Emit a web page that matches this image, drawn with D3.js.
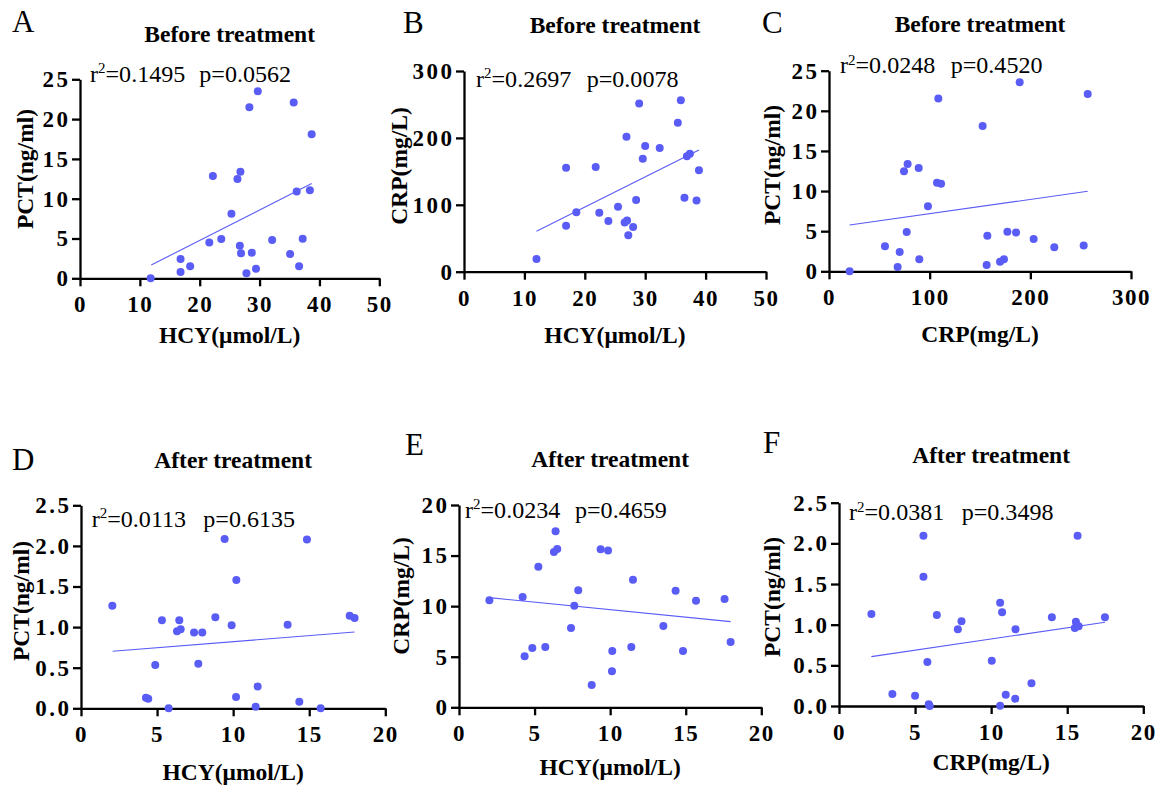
<!DOCTYPE html>
<html>
<head>
<meta charset="utf-8">
<script src="https://cdn.jsdelivr.net/npm/d3@7"></script>
<style>
  html, body { margin: 0; padding: 0; background: #fff; }
  svg { display: block; }
  text { font-family: "Liberation Serif", "Times New Roman", serif; fill: #000; }
</style>
</head>
<body>
<svg id="chart" width="1164" height="788"></svg>
<script>
// ---------- data ----------
// A: HCY (µmol/L) vs PCT (ng/ml), before treatment
const aX = [11.8, 16.8, 16.8, 18.4, 21.6, 22.2, 23.6, 25.3, 26.3, 26.8, 26.7, 26.9, 27.8, 28.3, 28.7, 29.4, 29.7, 32.1, 35.1, 35.7, 36.2, 36.6, 37.2, 38.4, 38.7];
const aY = [0.0, 2.43, 0.8, 1.5, 4.5, 12.86, 4.94, 8.1, 12.46, 13.4, 4.1, 3.14, 0.63, 21.5, 3.22, 1.2, 23.5, 4.8, 3.06, 22.07, 10.9, 1.5, 4.98, 11.06, 18.1];
const aFit = [[11.9, 1.67], [38.7, 11.9]];

// B: HCY (µmol/L) vs CRP (mg/L), before treatment
const bX = [12.0, 16.9, 16.9, 18.6, 21.8, 22.4, 23.9, 25.5, 26.6, 27.0, 26.9, 27.2, 28.0, 28.5, 29.0, 29.6, 30.0, 32.4, 35.4, 35.9, 36.5, 36.9, 37.4, 38.5, 38.9];
const bY = [18.9, 155.5, 68.8, 88.7, 156.5, 88.2, 75.7, 97.2, 73.7, 76.7, 201.8, 54.3, 66.8, 107.1, 251.6, 168.9, 187.8, 184.9, 222.7, 256.1, 110.6, 172.4, 176.4, 106.6, 151.5];
const bFit = [[12.0, 60.3], [38.9, 181.9]];

// C: CRP (mg/L) vs PCT (ng/ml), before treatment
const cX = [20.5, 55.6, 68.2, 70.2, 74.5, 77.2, 78.1, 89.1, 89.7, 98.3, 107.3, 111.3, 108.6, 152.6, 156.6, 157.3, 169.9, 173.8, 177.2, 185.8, 189.4, 203.3, 223.8, 253.0, 257.0];
const cY = [0.0, 3.11, 0.54, 2.41, 12.46, 4.9, 13.37, 12.87, 1.5, 8.1, 11.05, 10.92, 21.55, 18.1, 0.79, 4.44, 1.2, 1.5, 4.94, 4.82, 23.55, 4.03, 2.99, 3.2, 22.09];
const cFit = [[20.5, 5.77], [257.0, 9.97]];

// D: HCY (µmol/L) vs PCT (ng/ml), after treatment
const dX = [2.06, 4.27, 4.42, 4.88, 5.32, 5.76, 6.31, 6.55, 6.46, 7.43, 7.71, 7.97, 8.83, 9.44, 9.90, 10.19, 10.21, 11.48, 11.61, 13.58, 14.35, 14.85, 15.75, 17.66, 17.98];
const dY = [1.264, 0.131, 0.119, 0.534, 1.084, 0.0, 0.948, 0.973, 1.084, 0.932, 0.55, 0.932, 1.12, 2.085, 1.022, 0.14, 1.58, 0.02, 0.27, 1.03, 0.08, 2.08, 0.0, 1.14, 1.112];
const dFit = [[2.08, 0.702], [17.98, 0.94]];

// E: HCY (µmol/L) vs CRP (mg/L), after treatment
const eX = [2.01, 4.21, 4.34, 4.85, 5.25, 5.71, 6.28, 6.50, 6.39, 7.41, 7.63, 7.89, 8.78, 9.37, 9.86, 10.12, 10.14, 11.40, 11.51, 13.52, 14.33, 14.82, 15.68, 17.57, 17.97];
const eY = [10.58, 10.9, 5.04, 5.86, 13.9, 5.96, 15.35, 15.65, 17.4, 7.84, 10.05, 11.57, 2.21, 15.62, 15.49, 3.56, 5.57, 5.96, 12.62, 8.04, 11.53, 5.57, 10.54, 10.71, 6.46];
const eFit = [[2.01, 10.84], [17.97, 8.47]];

// F: CRP (mg/L) vs PCT (ng/ml), after treatment
const fX = [2.13, 3.51, 5.0, 5.55, 5.55, 5.81, 5.9, 5.96, 6.43, 7.81, 8.05, 10.04, 10.59, 10.59, 10.72, 10.96, 11.58, 11.60, 12.65, 13.99, 15.5, 15.57, 15.75, 15.68, 17.48];
const fY = [1.131, 0.148, 0.127, 2.094, 1.59, 0.541, 0.02, 0.0, 1.119, 0.943, 1.041, 0.557, 1.27, 0.004, 1.152, 0.139, 0.09, 0.943, 0.279, 1.09, 0.96, 1.037, 0.98, 2.094, 1.09];
const fFit = [[2.13, 0.607], [17.48, 1.03]];

// axis ticks
const ticksHcyBefore = [0, 10, 20, 30, 40, 50];
const ticksPctBefore = [0, 5, 10, 15, 20, 25];
const ticksCrpBefore = [0, 100, 200, 300];
const ticksHcyAfter = [0, 5, 10, 15, 20];
const ticksPctAfter = [0, 0.5, 1.0, 1.5, 2.0, 2.5];
const ticksCrpAfter = [0, 5, 10, 15, 20];

// texts
const panelLetters = ["A", "B", "C", "D", "E", "F"];
const panelTitles = ["Before treatment", "Before treatment", "Before treatment", "After treatment", "After treatment", "After treatment"];
const xTitles = ["HCY(\u03bcmol/L)", "HCY(\u03bcmol/L)", "CRP(mg/L)", "HCY(\u03bcmol/L)", "HCY(\u03bcmol/L)", "CRP(mg/L)"];
const yTitles = ["PCT(ng/ml)", "CRP(mg/L)", "PCT(ng/ml)", "PCT(ng/ml)", "CRP(mg/L)", "PCT(ng/ml)"];
const r2Values = ["0.1495", "0.2697", "0.0248", "0.0113", "0.0234", "0.0381"];
const pValues = ["0.0562", "0.0078", "0.4520", "0.6135", "0.4659", "0.3498"];

// ---------- layout ----------
const COLOR = "#5a5cf6";
const layout = [
  { l: 80,  r: 379.3,  t: 79.3,  b: 278.3, letter: [12, 32],  titleY: 41.7, statY: 81.7,  rX: 90,    pX: 199.3, yTitleX: 33,  yTitleY: 169, xTitleY: 343,
    xd: [0, 50], yd: [0, 25], xt: ticksHcyBefore, yt: ticksPctBefore, fmtY: d3.format("d"), x: aX, y: aY, fit: aFit },
  { l: 464, r: 766,    t: 71,    b: 271.7, letter: [403, 33], titleY: 33.3, statY: 86.7,  rX: 476,   pX: 586.7, yTitleX: 406.5, yTitleY: 166, xTitleY: 343,
    xd: [0, 50], yd: [0, 300], xt: ticksHcyBefore, yt: ticksCrpBefore, fmtY: d3.format("d"), x: bX, y: bY, fit: bFit },
  { l: 829, r: 1131,   t: 70.7,  b: 271.3, letter: [762, 33], titleY: 32.3, statY: 73.3,  rX: 840,   pX: 950.7, yTitleX: 780, yTitleY: 165, xTitleY: 341.7,
    xd: [0, 300], yd: [0, 25], xt: ticksCrpBefore, yt: ticksPctBefore, fmtY: d3.format("d"), x: cX, y: cY, fit: cFit },
  { l: 81,  r: 385.3,  t: 505.3, b: 708.3, letter: [12, 470], titleY: 467.7, statY: 526.7, rX: 91.7,  pX: 203.3, yTitleX: 28.5, yTitleY: 601, xTitleY: 780,
    xd: [0, 20], yd: [0, 2.5], xt: ticksHcyAfter, yt: ticksPctAfter, fmtY: d3.format(".1f"), x: dX, y: dY, fit: dFit },
  { l: 459, r: 761.3,  t: 505,   b: 707.3, letter: [405, 455], titleY: 466.7, statY: 517.7, rX: 465,  pX: 575,   yTitleX: 409, yTitleY: 596, xTitleY: 775,
    xd: [0, 20], yd: [0, 20], xt: ticksHcyAfter, yt: ticksCrpAfter, fmtY: d3.format("d"), x: eX, y: eY, fit: eFit },
  { l: 839, r: 1143.3, t: 502.7, b: 706,   letter: [763, 453], titleY: 463,  statY: 520,   rX: 849,   pX: 961.7, yTitleX: 780, yTitleY: 597, xTitleY: 770,
    xd: [0, 20], yd: [0, 2.5], xt: ticksCrpAfter, yt: ticksPctAfter, fmtY: d3.format(".1f"), x: fX, y: fY, fit: fFit }
];

const svg = d3.select("#chart");

layout.forEach((p, i) => {
  const xs = d3.scaleLinear().domain(p.xd).range([p.l, p.r]);
  const ys = d3.scaleLinear().domain(p.yd).range([p.b, p.t]);
  const g = svg.append("g");

  // panel letter
  g.append("text").attr("x", p.letter[0]).attr("y", p.letter[1])
    .attr("font-size", 31).text(panelLetters[i]);

  // title
  g.append("text").attr("x", (p.l + p.r) / 2).attr("y", p.titleY)
    .attr("text-anchor", "middle").attr("font-size", 23.5).attr("font-weight", "bold")
    .text(panelTitles[i]);

  // x axis
  const xAxis = d3.axisBottom(xs).tickValues(p.xt).tickSize(8).tickSizeOuter(0).tickPadding(9.5)
    .tickFormat(d3.format("d"));
  const gx = g.append("g").attr("transform", `translate(0,${p.b})`).call(xAxis);
  gx.selectAll("text").attr("font-size", 23).attr("font-weight", "bold")
    .attr("font-family", "Liberation Serif, Times New Roman, serif").style("letter-spacing", "1.5px");

  // y axis
  const yAxis = d3.axisLeft(ys).tickValues(p.yt).tickSize(8).tickSizeOuter(0).tickPadding(1.5)
    .tickFormat(p.fmtY);
  const gy = g.append("g").attr("transform", `translate(${p.l},0)`).call(yAxis);
  gy.selectAll("text").attr("font-size", 23).attr("font-weight", "bold")
    .attr("font-family", "Liberation Serif, Times New Roman, serif").style("letter-spacing", "2.5px");

  [gx, gy].forEach(a => {
    a.select(".domain").attr("stroke", "#000").attr("stroke-width", 2.3);
    a.selectAll(".tick line").attr("stroke", "#000").attr("stroke-width", 2.3);
    a.selectAll(".tick text").attr("fill", "#000");
  });

  // axis titles
  g.append("text").attr("x", (p.l + p.r) / 2).attr("y", p.xTitleY)
    .attr("text-anchor", "middle").attr("font-size", 23.5).attr("font-weight", "bold")
    .text(xTitles[i]);
  g.append("text").attr("transform", `translate(${p.yTitleX},${p.yTitleY}) rotate(-90)`)
    .attr("text-anchor", "middle").attr("font-size", 23.5).attr("font-weight", "bold")
    .text(yTitles[i]);

  // stats (slightly widened glyphs as in the original)
  const st = g.append("text").attr("transform", `translate(${p.rX},${p.statY}) scale(1.07,1)`)
    .attr("font-size", 22.5);
  st.append("tspan").text("r");
  st.append("tspan").attr("font-size", 14).attr("dy", -8.5).text("2");
  st.append("tspan").attr("dy", 8.5).text("=" + r2Values[i]);
  g.append("text").attr("transform", `translate(${p.pX},${p.statY}) scale(1.07,1)`)
    .attr("font-size", 22.5).text("p=" + pValues[i]);

  // regression line
  g.append("line")
    .attr("x1", xs(p.fit[0][0])).attr("y1", ys(p.fit[0][1]))
    .attr("x2", xs(p.fit[1][0])).attr("y2", ys(p.fit[1][1]))
    .attr("stroke", COLOR).attr("stroke-width", 1.1);

  // points
  g.selectAll("circle.pt").data(p.x.map((v, k) => [v, p.y[k]])).enter()
    .append("circle").attr("class", "pt")
    .attr("cx", d => xs(d[0])).attr("cy", d => ys(d[1])).attr("r", 4)
    .attr("fill", COLOR);
});
</script>
</body>
</html>
